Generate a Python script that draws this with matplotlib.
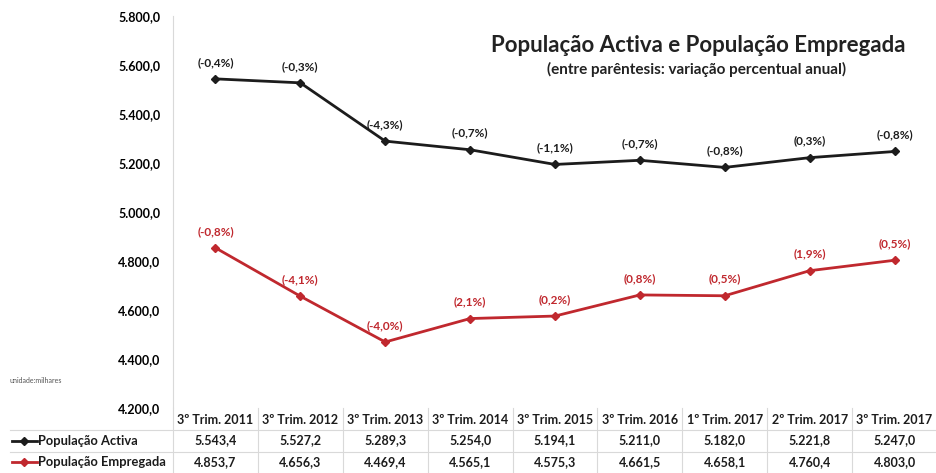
import matplotlib.pyplot as plt
from matplotlib.lines import Line2D

plt.rcParams['font.family'] = ['Lato', 'DejaVu Sans']

periodos = ["3º Trim. 2011", "3º Trim. 2012", "3º Trim. 2013", "3º Trim. 2014",
            "3º Trim. 2015", "3º Trim. 2016", "1º Trim. 2017", "2º Trim. 2017",
            "3º Trim. 2017"]
activa = [5543.4, 5527.2, 5289.3, 5254.0, 5194.1, 5211.0, 5182.0, 5221.8, 5247.0]
empregada = [4853.7, 4656.3, 4469.4, 4565.1, 4575.3, 4661.5, 4658.1, 4760.4, 4803.0]
var_activa = ["(-0,4%)", "(-0,3%)", "(-4,3%)", "(-0,7%)", "(-1,1%)", "(-0,7%)",
              "(-0,8%)", "(0,3%)", "(-0,8%)"]
var_empregada = ["(-0,8%)", "(-4,1%)", "(-4,0%)", "(2,1%)", "(0,2%)", "(0,8%)",
                 "(0,5%)", "(1,9%)", "(0,5%)"]
yticks = [4200, 4400, 4600, 4800, 5000, 5200, 5400, 5600, 5800]

BLACK = "#1c1c1c"
RED = "#c0282e"
GRID = "#d9d9d9"


def fmt(v):
    return f"{v:,.1f}".replace(",", "X").replace(".", ",").replace("X", ".")


fig = plt.figure(figsize=(9.37, 4.73), dpi=100)
ax = fig.add_axes([173 / 937, 1 - 408 / 473, 764 / 937, (408 - 16) / 473])

x = list(range(len(periodos)))
ax.plot(x, activa, color=BLACK, lw=2, marker="D", ms=4.5)
ax.plot(x, empregada, color=RED, lw=2, marker="D", ms=4.5)

for xi, v, t in zip(x, activa, var_activa):
    ax.annotate(t, (xi, v), xytext=(0, 8), textcoords="offset points",
                ha="center", va="bottom", fontsize=8.5, fontweight="bold", color=BLACK)
for xi, v, t in zip(x, empregada, var_empregada):
    ax.annotate(t, (xi, v), xytext=(0, 8), textcoords="offset points",
                ha="center", va="bottom", fontsize=8.5, fontweight="bold", color=RED)

ax.set_xlim(-0.5, len(periodos) - 0.5)
ax.set_ylim(4200, 5800)
ax.set_yticks(yticks)
ax.set_yticklabels([fmt(v) for v in yticks], fontsize=9, fontweight="bold")
ax.tick_params(axis="y", length=0, pad=9)
ax.set_xticks([])
for s in ["top", "right", "bottom"]:
    ax.spines[s].set_visible(False)
ax.spines["left"].set_color(GRID)

fig.text(698 / 937, 1 - 45 / 473, "População Activa e População Empregada",
         ha="center", va="center", fontsize=16, fontweight="bold", color="#222222")
fig.text(697 / 937, 1 - 69 / 473, "(entre parêntesis: variação percentual anual)",
         ha="center", va="center", fontsize=11, fontweight="bold", color="#222222")
fig.text(10 / 937, 1 - 380 / 473, "unidade:milhares", fontsize=5, color="#555555",
         va="center")

# data table below the plot
tr = ax.get_xaxis_transform()
row_y = [-0.031, -0.083, -0.139]
for xi, p, a, e in zip(x, periodos, activa, empregada):
    ax.text(xi, row_y[0], p, transform=tr, ha="center", va="center",
            fontsize=9, fontweight="bold", color=BLACK, clip_on=False)
    ax.text(xi, row_y[1], fmt(a), transform=tr, ha="center", va="center",
            fontsize=9, fontweight="bold", color=BLACK, clip_on=False)
    ax.text(xi, row_y[2], fmt(e), transform=tr, ha="center", va="center",
            fontsize=9, fontweight="bold", color=BLACK, clip_on=False)
for xi in range(len(periodos) + 1):
    ax.plot([xi - 0.5, xi - 0.5], [0, -0.17], transform=tr, color=GRID, lw=0.8,
            clip_on=False)
for yy in [-0.057, -0.111]:
    fig.add_artist(Line2D([10 / 937, 1], [ax.get_position().y0 + yy * ax.get_position().height] * 2,
                          color=GRID, lw=0.8))

for yy, lbl, col in [(row_y[1], "População Activa", BLACK), (row_y[2], "População Empregada", RED)]:
    fy = ax.get_position().y0 + yy * ax.get_position().height
    fig.add_artist(Line2D([12 / 937, 37 / 937], [fy, fy], color=col, lw=2))
    fig.add_artist(Line2D([24.5 / 937], [fy], color=col, marker="D", ms=4.5))
    fig.text(38 / 937, fy, lbl, ha="left", va="center", fontsize=9.3,
             fontweight="bold", color=BLACK)

fig.savefig("out.png", dpi=100)
